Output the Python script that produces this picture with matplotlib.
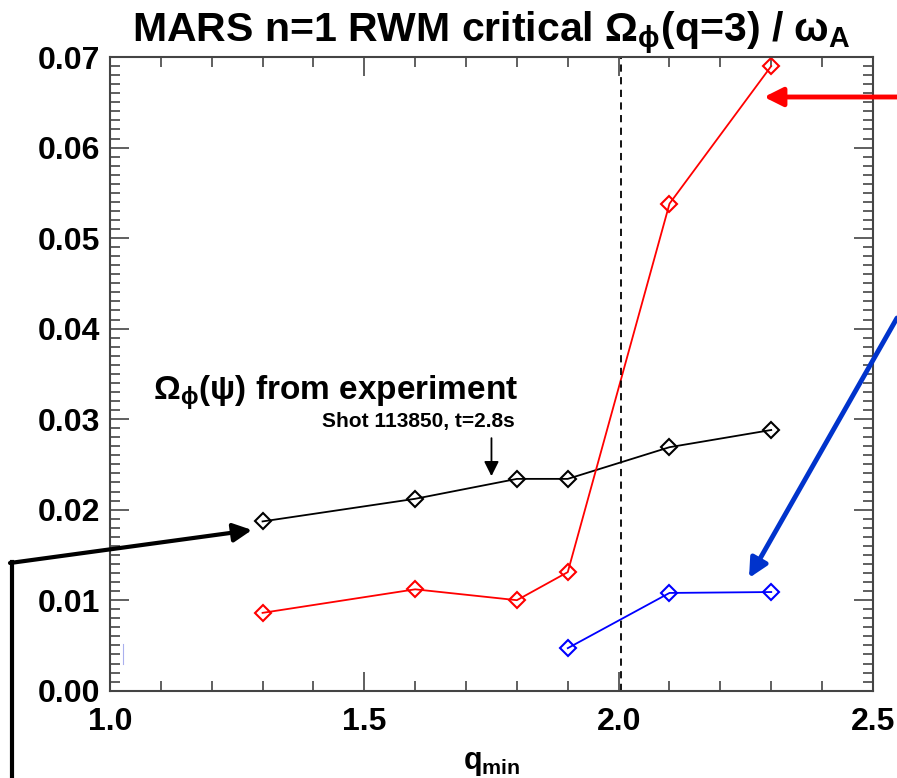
import numpy as np
import matplotlib
matplotlib.use("Agg")
import matplotlib.pyplot as plt
from matplotlib.ticker import MultipleLocator

plt.rcParams['font.family'] = ['Liberation Sans', 'DejaVu Sans']
plt.rcParams['mathtext.fontset'] = 'custom'
plt.rcParams['mathtext.rm'] = 'Liberation Sans:bold'
plt.rcParams['mathtext.it'] = 'Liberation Sans:bold'
plt.rcParams['mathtext.bf'] = 'Liberation Sans:bold'

# data
q_min = [1.3, 1.6, 1.8, 1.9, 2.1, 2.3]
omega_exp = [0.0187, 0.0212, 0.0234, 0.0234, 0.0269, 0.0288]
omega_red = [0.0086, 0.0112, 0.0100, 0.0131, 0.0538, 0.0690]
q_blue = [1.9, 2.1, 2.3]
omega_blue = [0.0047, 0.0108, 0.0109]
q_dashed = 2.005

fig = plt.figure(figsize=(8.97, 7.78), dpi=100)
ax = fig.add_axes([0.1226, 0.1122, 0.8506, 0.8145])

mk = dict(marker='D', markersize=8, markerfacecolor='none', markeredgewidth=1.5, lw=1.3)
ax.plot(q_min, omega_exp, color='black', **mk)
ax.plot(q_min, omega_red, color='red', **mk)
ax.plot(q_blue, omega_blue, color='blue', **mk)
ax.axvline(q_dashed, color='black', ls=(0, (4, 3)), lw=1.3)

ax.set_xlim(1.0, 2.5)
ax.set_ylim(0.0, 0.07)
ax.xaxis.set_major_locator(MultipleLocator(0.5))
ax.xaxis.set_minor_locator(MultipleLocator(0.1))
ax.yaxis.set_major_locator(MultipleLocator(0.01))
ax.yaxis.set_minor_locator(MultipleLocator(0.001))
ax.xaxis.set_major_formatter(plt.FuncFormatter(lambda v, p: f"{v:.1f}"))
ax.yaxis.set_major_formatter(plt.FuncFormatter(lambda v, p: f"{v:.2f}"))
ax.tick_params(which='both', direction='in', top=True, right=True, color='#444444')
ax.tick_params(which='major', length=14, width=1.2, labelsize=23)
ax.tick_params(axis='y', which='major', pad=7)
ax.tick_params(axis='x', which='major', pad=12)
ax.tick_params(which='minor', length=7, width=1.2)
for lab in ax.get_xticklabels() + ax.get_yticklabels():
    lab.set_fontweight('bold')
for s in ax.spines.values():
    s.set_color('#444444')
    s.set_linewidth(1.5)

ax.set_title(r'MARS n=1 RWM critical $\Omega_\phi$(q=3) / $\omega_A$',
             fontsize=29.5, fontweight='bold', pad=7)
ax.set_xlabel(r'q$_{\mathregular{min}}$', fontsize=22, fontweight='bold', labelpad=8)

ax.text(1.085, 0.0329, r'$\Omega_\phi$($\psi$) from experiment', fontsize=24,
        fontweight='bold', va='center')
ax.text(1.796, 0.0297, 'Shot 113850, t=2.8s', fontsize=15, fontweight='bold',
        ha='right', va='center')
ax.annotate('', xy=(1.75, 0.0237), xytext=(1.75, 0.0279),
            arrowprops=dict(arrowstyle='-|>', color='black', lw=1.3,
                            mutation_scale=22, shrinkA=0, shrinkB=0))

# faint mark near origin
ax.plot([1.025, 1.025], [0.0030, 0.0052], color='#aab0ee', lw=0.8)

# annotation arrows reaching outside the axes
W, H = 897.0, 778.0
def fpt(x, y):
    return (x / W, 1 - y / H)

fig.add_artist(plt.Line2D(*zip(fpt(12, 778), fpt(12, 562)), color='black', lw=3,
                          transform=fig.transFigure))
ax.annotate('', xy=fpt(252, 530), xytext=fpt(10, 563), xycoords='figure fraction',
            textcoords='figure fraction',
            arrowprops=dict(arrowstyle='-|>', color='black', lw=3, mutation_scale=28,
                            shrinkA=0, shrinkB=0), annotation_clip=False)
ax.annotate('', xy=fpt(764, 97), xytext=fpt(897, 97), xycoords='figure fraction',
            textcoords='figure fraction',
            arrowprops=dict(arrowstyle='-|>', color='red', lw=3.5, mutation_scale=28,
                            shrinkA=0, shrinkB=0), annotation_clip=False)
ax.annotate('', xy=fpt(749, 578), xytext=fpt(897, 318), xycoords='figure fraction',
            textcoords='figure fraction',
            arrowprops=dict(arrowstyle='-|>', color='#0033cc', lw=3.5, mutation_scale=28,
                            shrinkA=0, shrinkB=0), annotation_clip=False)

fig.savefig('out.png', dpi=100)
